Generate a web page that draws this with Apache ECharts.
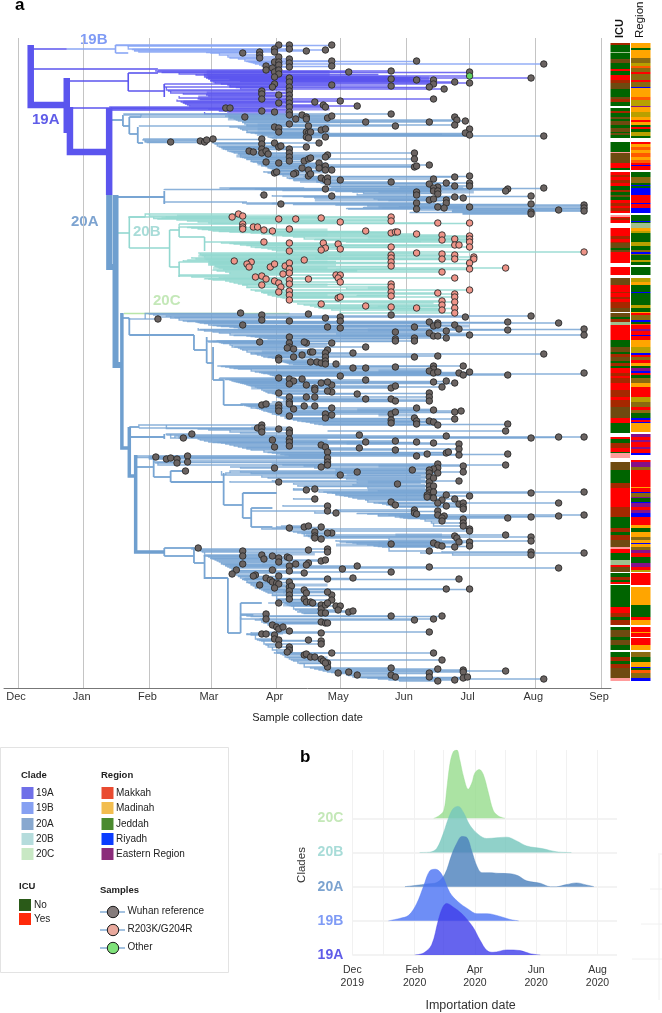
<!DOCTYPE html>
<html><head><meta charset="utf-8"><style>html,body{margin:0;background:#fff}#c{width:662px;height:1013px}</style>
<script src="https://cdn.jsdelivr.net/npm/echarts@6/dist/echarts.min.js"></script></head><body><div id="c"></div>
<script>
// x values are days since 1 Dec 2019, y values are tip rows of the tree
const monthDays=[0,31,62,91,122,152,183,213,244,275];
const monthNames=['Dec','Jan','Feb','Mar','Apr','May','Jun','Jul','Aug','Sep'];
const samplesOther=[[213,46]];
const samplesR203K=[[101,187],[104,184],[106,186],[123,189],[131,189],[143,188],[106,194],[106,197],[106,199],[111,197],[113,197],[116,200],[120,201],[128,199],[116,212],[128,213],[128,221],[144,213],[145,218],[143,220],[102,231],[110,232],[108,234],[109,237],[119,237],[121,234],[126,236],[128,233],[128,239],[128,243],[125,244],[135,230],[112,247],[115,246],[117,249],[121,251],[123,253],[124,257],[115,255],[137,249],[128,250],[128,254],[123,262],[128,261],[128,265],[128,270],[143,274],
[176,187],[176,191],[152,192],[198,193],[213,193],[164,201],[176,203],[178,202],[179,202],[188,204],[200,205],[200,210],[206,209],[213,206],[213,209],[213,212],[206,215],[208,215],[213,217],[151,214],[152,219],[176,217],[188,223],[200,224],[200,229],[206,225],[206,229],[176,225],[176,228],[176,232],[176,236],[215,227],[215,229],[213,233],[213,239],[200,242],[230,238],[267,222],[150,245],[152,245],[151,248],[152,252],[206,248],[176,254],[176,257],[176,262],[176,266],[213,260],[198,263],[206,264],[206,267],[151,268],[152,267],[206,272],[164,276],[176,277],[188,278],[200,271],[200,275],[200,280],[206,278],[206,283]];
const samplesWuhan=[[123,15],[128,15],[128,19],[106,23],[114,22],[114,25],[114,28],[121,19],[121,22],[136,21],[145,20],[123,27],[121,32],[123,32],[128,29],[128,33],[128,37],[117,36],[117,40],[120,38],[121,42],[123,35],[123,40],[123,44],[121,47],[128,48],[128,52],[128,57],[128,61],[121,54],[120,57],[115,61],[115,64],[115,69],[123,65],[123,73],[140,72],[144,75],[145,77],[128,65],[128,69],[128,73],[128,77],[128,82],[128,85],[98,78],[100,78],[115,81],[121,82],
[107,87],[131,89],[134,85],[136,87],[136,89],[146,88],[128,94],[137,96],[121,97],[123,98],[123,102],[136,102],[137,103],[138,102],[136,107],[137,108],[143,100],[145,99],[145,107],[142,113],[72,112],[86,111],[88,112],[89,110],[92,109],[115,109],[115,114],[115,119],[121,113],[123,117],[124,116],[128,119],[128,123],[128,127],[128,131],[136,117],[109,121],[111,122],[115,123],[117,121],[118,124],[117,132],[123,133],[135,131],[137,129],[138,128],[146,125],[145,127],[142,133],[142,138],[145,136],[145,140],[134,138],[137,140],[137,146],[138,144],[131,143],[130,144],[121,143],[122,142],[143,148],[145,150],[146,148],[146,152],[145,159],[116,165],[124,174],
[105,283],[66,289],[115,285],[115,290],[106,295],[128,291],[137,284],[145,288],[146,297],[128,307],
[148,15],[148,31],[188,31],[148,36],[248,34],[156,42],[176,41],[213,42],[213,53],[176,49],[188,50],[196,50],[196,54],[206,52],[176,56],[194,57],[201,59],[148,55],[242,48],[152,71],[196,69],[160,76],[148,86],[176,84],[206,87],[207,90],[211,91],[194,92],[164,92],[206,95],[178,96],[213,99],[211,103],[213,105],[248,106],
[187,123],[187,129],[187,137],[188,136],[194,135],[148,140],[152,150],[176,152],[196,149],[206,147],[213,146],[213,153],[213,156],[194,154],[202,153],[206,156],[198,157],[196,158],[196,161],[198,161],[198,164],[188,162],[188,165],[231,159],[230,161],[248,158],[148,166],[206,167],[210,168],[194,170],[196,169],[202,170],[202,173],[242,166],[242,174],[213,177],[188,173],[188,179],[198,177],[201,178],[255,180],[267,175],[267,178],[267,181],[242,182],[242,184],
[176,285],[211,287],[242,286],[152,287],[152,291],[194,292],[196,296],[198,293],[198,295],[206,295],[208,299],[231,292],[255,293],[187,297],[152,298],[178,302],[194,303],[202,301],[231,300],[267,299],[267,305],[213,305],[196,306],[198,306],[202,308],[178,309],[187,308],
[164,317],[178,311],[187,311],[148,313],[158,323],[187,327],[198,326],[248,324],[150,334],[158,338],[164,338],[178,337],[196,336],[196,339],[194,341],[196,343],[198,342],[210,336],[213,342],[208,343],[210,345],[231,345],[267,343],[152,346],[148,355],[148,362],[164,350],[196,352],[202,351],[206,353],[200,357],[176,358],[178,356],[160,364],[164,369],[176,369],[178,371],[194,363],[194,367],[194,371],
[148,378],[148,385],[176,384],[178,382],[188,378],[196,380],[206,382],[209,381],[176,390],[176,393],[187,388],[188,391],[188,394],[194,391],[196,392],[198,395],[206,389],[231,394],[230,401],
[161,405],[202,406],[242,408],[255,407],[267,407],[164,412],[178,411],[188,412],[196,413],[208,414],[208,419],[161,418],[178,420],[193,424],[202,423],[203,422],[188,426],[208,425],[231,424],
[198,434],[198,438],[196,439],[194,440],[210,436],[230,435],[186,440],[160,442],[152,445],[194,443],[194,447],[194,452],[194,456],[194,460],[194,463],[193,465],[193,467],[196,448],[196,456],[196,462],[198,443],[210,442],[208,451],[179,454],[202,465],[213,466],[242,463],[267,462],[206,469],[196,468],[200,470],[198,473],[208,474],[210,473],[210,477],[210,479],[202,476],[176,472],[178,475],[255,473],
[150,483],[187,480],[187,483],[188,484],[198,481],[198,485],[201,486],[200,488],[200,491],[231,488],[242,487],[255,486],[267,485],[210,489],[210,493],[210,496],[213,499],[213,501],[148,503],[206,506],[207,508],[208,512],[230,505],[242,507],[242,511],[176,514],[196,513],[198,515],[200,516],[206,517],[213,512],[213,516],[194,521],[242,522],[242,525],[267,523],
[194,537],[153,539],[160,536],[176,542],[255,538],[158,548],[208,549],[202,559],[213,559],[148,565],[148,570],[150,576],[152,576],[151,580],[156,582],[158,581],[176,586],[200,586],[187,590],[196,589],[194,602],[148,623],[196,623],[200,630],[176,638],[176,645],[198,639],[210,640],[210,642],[230,641],[194,643],[194,647],[151,643],[156,642],[160,645],[178,647],[198,651],[206,650],[210,648],[212,647],[248,649],
[114,312],[128,313],[128,317],[127,318],[130,319],[136,313],[135,312],[146,320],[145,323],[145,327],[138,322],[139,322],[134,325],[130,327],[123,328],[123,330],[138,332],[141,332],[143,333],[145,331],[145,334],
[123,348],[128,349],[130,351],[134,349],[128,354],[136,355],[143,353],[146,352],[140,358],[140,360],[146,361],[123,363],[128,367],[136,367],[140,367],[128,372],[128,374],[115,375],[117,374],[123,375],[123,378],[123,381],[130,379],[135,376],[140,376],[145,384],[145,388],[128,386],
[113,398],[115,395],[115,398],[115,402],[123,399],[128,400],[128,403],[82,404],[78,408],[120,410],[128,409],[128,412],[121,417],[128,416],[143,415],[145,417],[146,422],
[65,427],[70,429],[72,428],[75,429],[75,433],[80,426],[80,432],[79,441],[146,428],[146,432],[146,435],[143,437],[121,438],[123,452],
[136,460],[140,459],[140,469],[146,476],[146,481],[128,498],[135,497],[137,496],[143,497],[140,502],[140,506],[140,508],[143,509],[146,503],
[85,518],[106,521],[106,526],[137,520],[146,519],[146,522],[115,525],[116,529],[120,526],[123,528],[123,532],[127,527],[128,528],[128,536],[131,534],[137,533],[136,535],[143,531],[145,530],[106,534],
[103,540],[101,544],[120,540],[128,541],[135,543],[123,546],[112,545],[111,546],[117,548],[119,550],[120,552],[122,553],[123,554],[121,558],[114,555],[128,552],[128,557],[129,556],[128,561],[128,565],[128,569],[146,549],[146,562],[135,560],[136,563],[135,569],[136,572],[138,572],[139,573],[123,573],[143,575],[143,579],[143,583],[145,575],[146,573],[145,583],
[117,584],[117,589],[120,595],[122,597],[123,599],[125,597],[128,601],[143,592],[145,593],[146,593],[115,604],[117,604],[121,605],[121,609],[123,610],[123,615],[137,610],[143,603],[143,611],[143,614],[128,617],[128,620],[127,622],[135,625],[136,624],[138,627],[140,627],[143,629],[144,631],[146,633],[146,637],[145,633]];

// trunk edges: [parent day, parent row, child day, child row]
const trunk19AHeavy=[[6,15,23,75],[23,48,23,103],[24.5,77,43,122],[43,78,43,165]];
const trunk19AThin=[[6,19,23,19],[6,39,66,39],[23,51,52,51],[52,43,52,61],[52,43,66,43],[52,61,69,61],[69,54,69,67],[23,78,60,78]];
const trunk19BThin=[[23,19,46,19],[46,15,46,23],[46,23,52,23]];
const trunk20AHeavy=[[43,165,46,237],[46,165,49,335]];
const trunk20AMidHeavy=[[49,283,52,418],[52.5,397,55.5,446],[55.5,425,69,522]];
const trunk20AThin=[[43,90,49.5,90],[49.5,85,49.5,96],[49.5,96,52.5,96],[52.5,87,58,87],[52.5,87,52.5,104],[52.5,104,56.5,104],[56.5,97,56.5,113],[56.5,113,59,113],[46,167,69,167],[69,161,69,174],[49,288,52.5,288],[52.5,288,52.5,305],[52.5,305,83,305],[83,305,83,320],[83,320,89,320],[89,307,89,333],[89,333,92,333],[92,317,92,350],[92,350,97,350],[97,350,97,375],[97,375,106,375],[52.5,397,57,397],[52.5,407,69,407],[69,404,69,409],[55.5,437,64,437],[64,430,64,447],[64,447,72,447],[72,441,72,452],[72,441,79,441],[72,452,97,452],[97,443,97,475],[97,475,106,475],[106,463,106,488],[106,463,122,463],[106,488,110,488],[110,478,110,497],[110,478,120,478],[110,497,120,497],[69,518,69,526],[69,518,83,518],[69,526,83,526],[83,518,83,533],[83,533,88,533],[88,525,88,545],[88,545,99,548],[99,548,99,603],[99,603,105,603],[105,573,105,603],[105,573,115,573],[105,585,111,585]];
const trunk20BThin=[[46,203,52.5,203],[52.5,187,52.5,218],[52.5,187,60,187],[52.5,218,71.5,218],[71.5,200,71.5,237],[71.5,200,76,200],[76,197,76,207],[71.5,237,76,237],[76,232,76,247],[76,207,88,207],[88,207,88,221]];
const trunk20CThin=[[50,283.5,128,283.5]];

// tip bundles that overlap into solid bands: [start day, end day, row]
const bundles19A=[[89,147,42],[89,147,45],[120,194,48],[147,194,50],[89,128,63],[85,128,67],[78,128,72],[44,147,79]];
const bundles20A=[[99,147,86],[99,147,89],[113,147,95],[113,147,99],[113,147,103],[115,213,105],[96,128,118],[103,146,126],[113,146,134],[122,146,142],[130,146,150],[180,210,158],[170,215,162],[140,200,170],[170,210,177],[190,267,178],[205,267,180],[150,196,292],[150,213,296],[165,200,300],[150,213,304],[115,146,315],[115,146,322],[125,146,330],[170,200,341],[150,196,344],[105,146,352],[110,146,358],[125,194,370],[160,196,380],[170,188,385],[178,198,392],[110,128,398],[120,146,410],[155,178,413],[70,146,427],[75,146,431],[170,196,436],[155,194,445],[165,194,452],[165,194,460],[175,196,470],[180,200,487],[178,200,505],[150,196,515],[170,210,513],[105,140,524],[115,135,535],[115,146,555],[125,146,562],[125,146,575],[120,146,593],[117,125,603],[135,146,628]];
const bundles20B=[[75,143,186],[120,176,188],[110,146,200],[120,146,205],[165,200,207],[180,213,209],[85,146,226],[90,146,232],[92,146,238],[140,176,228],[150,200,240],[115,146,255],[125,146,265],[165,176,258],[165,200,276]];

// tree ladders: [start day, tip day, row]; each edge hangs from the row before it
const ladders19B=[[[46,123,15],[46,148,15.5],[52,128,16],[52,128,19],[54,121,19.5],[55,136,21],[55,145,20],[57,121,22],[89,114,22.5],[91,106,23],[95,114,25],[99,123,27],[100,114,28],[104,128,29],[107,148,31],[108,188,31.5],[109,121,32],[110,123,32.5],[111,128,33],[112,248,34],[114,123,35],[115,117,36],[116,148,36.5],[118,128,37]]];
const ladders19A=[
[[66,117,40],[65,176,41],[66,156,42],[68,213,42.5],[76,123,44],[84,121,45],[88,170,44.5],[88,213,46],[90,178,46.5],[88,128,47],[89,190,47.5],[89,242,48],[90,185,48.5],[90,176,49],[100,190,49.5],[91,188,50],[91,196,50.5],[91,180,51],[105,195,51.5],[92,206,52],[93,213,53],[96,196,54],[99,148,55],[100,176,56],[100,128,57],[103,194,57.5],[105,201,59]],
[[69,121,54],[69,120,57],[70,128,60],[71,115,61],[72,128,63],[78,115,64],[89,123,65],[90,128,66],[76,115,68],[85,196,69],[86,128,69.5],[75,152,71],[77,140,72],[78,128,73],[79,123,74],[80,144,75],[81,160,76]],
[[43,145,77],[44,115,78.5],[60,98,78],[90,100,79],[44,128,80],[95,121,81],[99,128,82],[88,128,84]]];
const ladders20A=[
[[50,128,85],[50,176,84],[58,107,87],[98,148,86],[100,136,87],[100,146,88],[102,131,89],[103,207,90],[104,211,91],[106,194,92],[106,164,92.5],[107,128,94],[108,206,95],[108,178,96]],
[[57,137,96],[100,121,97],[104,123,98],[105,145,99],[106,143,100],[108,138,102],[108,123,102.5],[110,137,103],[112,211,103.5],[125,200,104.5],[113,213,105],[122,210,105.5],[121,248,106],[118,136,107],[119,145,107.5],[120,137,108]],
[[59,92,109],[59,89,110],[60,86,111],[60,72,112],[61,88,112.5],[92,115,109.5],[92,142,113],[93,121,113.5],[93,115,114],[94,124,116],[95,136,117],[96,123,117.5],[97,115,119],[98,128,119.5],[99,109,121],[100,117,121.5],[101,111,122],[102,187,123],[104,128,123.5],[104,118,124],[105,146,125],[105,145,127],[106,128,127.5],[107,138,128],[108,187,129],[108,137,129.5],[110,128,131],[110,135,131.5],[111,117,132],[113,123,133],[114,142,133.5],[115,194,135],[115,145,136],[117,188,136.5],[118,187,137],[118,142,138],[119,134,138.5],[120,137,140],[121,148,140.5],[122,145,141],[116,122,142],[118,121,143],[120,131,143.5],[121,130,144],[122,138,144.5],[125,137,146],[135,213,146.5],[137,206,147],[127,143,148],[128,146,148.5],[139,196,149],[130,145,150],[141,152,150.5],[141,176,152],[133,146,152],[143,213,153],[144,202,153.5],[145,194,154],[147,213,156],[147,206,156.5],[148,198,157]],
[[95,135,158],[100,248,158.5],[112,231,159],[69,145,159.5],[115,230,160],[125,196,160.5],[150,196,161],[150,198,161.5],[158,188,162],[163,198,163.5],[160,188,165],[114,116,165],[120,148,166],[125,242,166.5],[135,206,167],[140,210,168],[168,196,169],[170,194,170],[175,202,170.5],[69,108,172],[106,188,173],[120,202,173.5],[108,124,174],[130,242,174.5],[150,267,175],[165,267,176],[180,213,177],[163,198,177.5],[172,201,178],[155,267,178.5],[156,188,179],[190,255,180],[205,267,181],[205,242,182],[185,240,182.5],[210,242,183.5],[210,242,184]],
[[52,66,289],[60,105,283.5],[62,137,284],[64,115,285],[66,211,287],[70,242,286],[72,145,288],[74,152,287.5],[76,115,290],[78,128,291],[80,152,291.5],[84,194,292],[85,231,292.5],[86,255,293],[88,198,293.5],[90,106,295],[92,206,295.5],[94,198,296],[96,196,296.5],[100,187,297],[102,146,297.5],[104,152,298],[85,231,300],[86,267,299.5],[106,208,299],[88,202,301],[92,178,302],[95,194,303],[100,267,305],[102,213,305.5],[108,196,306],[110,198,306.5],[112,128,307],[114,202,308],[116,187,308.5],[118,178,309]],
[[89,136,311],[90,114,312],[92,178,311.5],[94,187,311],[95,135,312.5],[96,128,313],[97,148,313.5],[100,136,315],[101,128,317],[102,164,317],[104,127,318],[105,130,319],[106,146,320],[108,138,322],[110,158,323],[110,248,324],[112,145,323.5],[113,134,325],[115,198,326],[116,130,327],[118,187,327],[118,145,327.5],[120,123,328],[122,123,330],[124,145,331],[125,138,332],[126,141,332.5],[127,143,333],[128,150,334],[130,145,334.5]],
[[94,210,336],[96,196,336.5],[98,178,337],[100,158,338],[102,164,338.5],[104,196,339],[110,194,341],[112,198,342],[114,213,342.5],[115,196,343],[116,208,343.5],[118,267,344],[119,231,345],[120,210,345.5],[121,152,346]],
[[95,123,348],[95,128,349],[98,134,349.5],[100,164,350],[101,130,351],[102,202,351.5],[103,146,352],[104,196,352.5],[105,143,353],[106,206,353.5],[107,128,354],[108,136,355],[109,148,355.5],[110,178,356],[112,200,357],[113,140,358],[114,176,358],[115,140,360],[116,146,361],[117,148,362],[118,123,363],[120,194,363.5],[121,160,364],[122,194,367],[123,128,367.5],[124,136,368],[125,140,368.5],[126,164,369],[127,176,369.5],[128,194,371],[129,178,371.5],[120,128,372]],
[[105,128,374],[105,117,374.5],[106,115,375],[107,123,375.5],[108,135,376],[109,140,376.5],[110,188,378],[112,148,378],[113,123,378.5],[114,130,379],[115,196,380],[116,209,381],[117,123,381],[118,178,382],[119,206,382.5],[120,176,384],[121,145,384],[122,148,385],[124,128,386],[126,145,388],[127,206,389],[128,187,388.5],[130,176,390],[132,188,391],[134,194,391.5],[136,196,392],[138,176,393],[140,188,394],[142,231,394.5],[144,198,395]],
[[146,230,401]],
[[57,113,398],[57,115,395],[70,115,398.5],[85,123,399],[90,128,400],[100,115,402],[105,128,403]],
[[70,161,405],[70,82,404],[72,78,408],[74,202,406],[76,242,408],[80,267,407],[82,255,407.5],[85,128,409],[86,120,410],[88,178,411],[90,164,412],[92,128,412.5],[94,188,412.5],[96,196,413],[98,208,414],[100,143,415],[102,128,416],[104,145,417],[106,161,418],[108,121,417.5],[108,208,419],[110,178,420],[116,146,422],[118,203,422.5],[120,202,423],[122,193,424],[124,231,424.5],[126,208,425],[128,188,426]],
[[56,146,426],[56,146,427.5],[62,80,426.5],[62,72,428],[62,75,429],[63,146,428.5],[64,80,432],[65,75,433],[66,146,432.5],[66,146,435]],
[[100,143,437],[105,121,438],[120,198,434],[125,230,435],[135,210,436],[140,198,438],[145,196,439],[150,194,440],[152,186,440.5]],
[[72,79,441],[96,152,445],[98,194,443],[100,186,441],[105,160,442],[110,198,443.5],[150,210,442],[150,190,445.5],[115,194,447],[118,196,448],[155,190,449],[160,192,450],[120,208,451],[100,123,452],[125,194,452],[160,190,453],[130,179,454],[158,192,455],[132,194,456],[135,196,456.5],[165,192,458],[130,140,459],[130,136,460],[140,194,460],[170,192,461],[142,196,462],[144,267,462],[146,242,463],[148,194,463],[150,192,464],[150,202,465],[152,193,465.5],[154,213,466],[156,193,467],[158,196,468],[130,140,469],[160,206,469],[164,200,470],[165,176,472],[168,198,473],[170,255,473],[172,208,474],[174,178,475],[125,146,476],[176,210,476],[176,202,476.5],[180,210,477]],
[[110,146,481],[150,187,480],[152,198,481.5],[140,150,483],[160,187,483.5],[165,188,484],[170,198,485],[170,201,486],[175,267,485],[178,242,487],[180,255,486.5],[182,231,488],[184,200,488.5],[190,210,489],[192,200,491],[195,210,493],[196,210,496]],
[[124,137,496],[122,135,497],[126,143,497.5],[120,128,498],[115,213,499],[128,213,501],[130,140,502],[132,146,503],[134,148,503.5],[135,140,506],[136,230,505],[137,206,506.5],[138,140,508],[139,143,509],[142,242,507],[145,207,508],[175,200,510],[150,242,511],[152,208,512],[155,213,512.5],[158,196,513],[160,176,514],[165,198,515],[168,200,516],[170,213,516.5],[172,206,517],[175,194,521],[200,242,522],[190,267,523],[205,242,525]],
[[82,85,518],[82,146,519],[84,137,520],[86,106,521],[87,146,522],[88,115,525],[88,106,526],[89,120,526],[90,127,527],[91,123,528],[91,128,528.5],[92,116,529],[93,145,530],[94,143,531],[95,123,532],[96,137,533],[96,106,534],[97,131,534.5],[98,136,535],[98,128,536],[100,160,536],[99,194,537],[100,255,538],[101,103,540],[101,120,540.5],[102,128,541],[102,176,542],[103,135,543],[100,101,544],[103,112,545],[104,111,546],[104,123,546.5],[105,117,548],[107,158,548.5],[106,146,549],[106,208,549.5],[107,119,550],[108,120,552],[108,128,552.5],[109,122,553],[110,123,554],[110,114,555],[111,129,556],[112,128,557],[112,121,558],[114,202,559],[116,213,559.5],[115,135,560],[116,128,561],[117,146,562],[118,136,563],[120,128,565],[120,148,565.5],[122,128,569],[122,135,569.5],[124,148,570],[125,136,572],[125,138,572.5],[126,139,573],[118,123,573],[126,146,573.5],[127,143,575],[128,145,575.5],[129,150,576],[130,143,579],[131,151,580],[133,158,581],[132,156,582],[134,143,583],[135,145,583.5]],
[[105,117,584],[108,176,586],[110,200,586.5],[105,117,589],[114,196,589],[112,187,590],[115,143,592],[116,145,593],[118,146,593.5],[118,120,595],[120,122,597],[120,125,597.5],[121,123,599],[122,128,601],[124,194,602],[110,143,603],[108,115,604],[108,117,604.5],[110,121,605],[112,121,609],[113,123,610],[114,137,610.5],[115,143,611],[116,143,614],[117,123,615],[118,128,617],[120,128,620],[122,127,622],[121,148,623],[122,196,623],[124,136,624],[125,135,625],[126,138,627],[127,140,627.5],[128,143,629],[129,200,630],[130,144,631],[132,146,633],[133,145,633.5],[135,146,637],[138,176,638],[140,198,639],[142,210,640],[144,230,641],[146,210,642],[148,156,642.5],[150,151,643],[152,194,643.5],[155,176,645],[156,160,645.5],[158,178,647],[160,194,647.5],[162,212,647.5],[165,210,648],[170,248,649],[175,206,650],[180,198,651]]];
const ladders20B=[
[[52,101,187],[60,104,184],[62,106,186],[70,176,187],[64,123,188.5],[66,131,189],[68,143,188],[75,176,190],[80,176,191],[85,152,192],[90,198,193],[92,213,193.5]],
[[76,106,194],[76,106,197],[80,111,197.5],[82,113,198],[85,106,199],[87,128,199.5],[90,116,200],[92,120,201],[95,164,201.5],[100,178,202],[105,179,202.5],[110,176,203],[115,188,204],[120,200,205],[125,213,206],[130,213,207],[135,206,209],[140,213,209.5],[145,200,210],[150,213,211],[152,190,211.5],[155,213,212]],
[[88,116,212],[96,144,213],[100,128,213.5],[102,151,214],[105,206,215],[108,208,215.5],[110,213,217],[112,176,217.5],[115,145,218],[118,152,219],[120,143,220],[122,128,221],[130,267,222]],
[[85,188,223],[86,200,224],[86,176,225],[87,206,225.5],[88,215,227],[82,176,228],[84,200,229],[88,206,229],[89,215,229.5],[80,135,230],[78,102,231],[90,150,231.5],[76,110,232],[92,176,232.5],[90,128,233],[91,213,233.5],[90,121,234],[91,108,234.5],[90,150,235],[93,126,236],[93,176,236.5],[94,119,237],[95,109,237.5],[95,230,238],[97,128,239],[97,213,239.5],[92,160,240],[94,160,241],[98,200,242],[100,128,243],[100,125,244]],
[[76,150,245],[76,115,246],[82,112,247],[95,206,248],[97,151,248.5],[88,137,248.7],[90,117,249],[92,128,250],[98,121,251],[100,152,252],[102,123,253],[104,128,254],[106,176,254.5],[106,115,255],[108,176,257],[108,124,257.5],[155,176,259],[110,213,260],[112,128,261],[115,123,262],[115,176,262.5],[116,198,263],[118,206,264],[118,128,265],[160,176,265.5],[120,176,266],[122,206,267],[124,152,267.5],[125,151,268],[127,128,270],[128,200,271],[130,206,272],[165,196,273],[132,143,274],[135,200,275],[138,164,276],[170,198,276.5],[140,176,277],[142,188,278],[144,206,278.5],[175,200,279],[148,200,280],[176,200,281],[152,206,283]]];

// ICU and Region strips: "<first row><code>" runs, one run per colour band
const icuRuns='13d 15G 22l 23G 29b 33G 39R 41G 45R 50d 53b 59G 67b 69d 72G 76w 78G 81d 83G 87b 89G 91b 95G 98b 102G 103b 105G 108w 112G 122p 123b 133R 138G 140w 142R 145d 147R 150d 153R 156G 160d 162G 165b 167G 170R 173d 176R 178d 181R 183w 185p 187R 188d 190R 193w 198R 206d 209R 212d 213b 218G 220b 222R 233w 237R 245w 248b 255R 262d 263R 267d 269R 272d 278b 282w 283b 287G 289d 292l 295R 310G 317b 322G 324d 327b 331G 333d 336G 338R 343d 346R 348d 353R 360d 367R 370d 377b 388R 393G 403w 407R 409G 413d 418R 422G 423p 428w 432b 440G 453d 458R 477d 487G 498d 502G 505d 510b 517p 519R 523G 530l 535R 537b 542w 543G 547d 550G 552R 554w 555G 577R 583d 587G 590d 595w 597G 600b 607G 610b 615G 620w 622G 627d 631G 634d 638b 648p 651e'.split(' ');
const regionRuns='13O 18G 20O 28m 33y 36r 38m 42R 44m 50R 52m 57B 58O 67r 70y 76P 77O 82y 87O 90R 92O 95G 97R 99G 102y 106G 108w 112R 114O 117r 120O 123r 127O 130r 133R 135B 136R 140w 142G 147m 153G 155B 156G 158B 165R 173B 174R 178B 183w 185G 191B 192G 193l 198O 201y 203G 212y 216G 220m 222B 224m 225G 230y 232G 235w 237G 245w 248y 252O 255G 262B 263G 275y 278G 282O 283R 285m 290B 292G 294r 295R 299P 301R 305B 306R 310O 317y 323B 325R 327m 330R 333O 336G 338P 341B 343R 345G 348m 353O 357R 367y 372m 377R 380m 383G 388B 390R 392B 393O 402w 404P 407R 410P 412R 417P 419R 423B 425w 430R 432P 437m 440R 457O 458R 462B 463m 467P 468G 472B 473P 477R 480P 483B 487R 495O 498G 502O 507m 510O 513B 514O 517m 520P 523R 527G 533P 537R 540y 542w 543R 555w 557O 575G 587R 590O 595w 597R 602O 603R 607w 608R 615O 620w 622m 627G 632O 637B 638G 640r 643m 648B 651e'.split(' ');
const stripNames=['ICU','Region'];

// Importation-date ridges: [day since 1 Dec 2019, density in ridge-spacing units]
const ridgeOrder=['19A','19B','20A','20B','20C'];
const ridge20C=[[81,0],[86,.07],[91,.23],[94,.85],[97,1.57],[100.5,1.95],[104,2],[107,1.71],[110.5,1.24],[115.4,.85],[119,1.04],[122,1.33],[126.4,1.43],[130.4,1.28],[135.3,.76],[140.3,.23],[145.3,.07],[152,0]];
const ridge20B=[[67,0],[77,.01],[84,.12],[90.6,.56],[95.5,.99],[100.5,1.29],[105.5,1.35],[110.5,1.18],[117,.8],[125.4,.53],[133.7,.41],[143.6,.43],[153.6,.45],[163.5,.34],[173.5,.19],[190,.11],[203,.02],[218,0]];
const ridge20A=[[52.4,0],[64,.04],[74,.08],[84,.12],[92,.36],[99,.94],[104,1.27],[109,1.47],[114,1.44],[119,1.03],[124,.6],[129,.41],[137,.41],[145,.39],[157,.38],[165,.32],[173.5,.17],[187,.1],[197,0],[203,0],[213,.06],[223,.11],[233,.05],[240.5,0]];
const ridge19B=[[36,0],[47,.07],[56,.16],[64,.5],[71,1.02],[77,1.46],[83,1.51],[89,1.36],[97,.83],[105.5,.55],[115,.35],[124,.21],[134,.21],[147,.13],[157,.04],[165.5,0]];
const ridge19A=[[62,0],[71,.06],[79,.3],[85.6,1.02],[90,1.4],[94,1.51],[100.5,1.4],[109,1.21],[120,.82],[127,.44],[134,.13],[140,.08],[154,.15],[167,.13],[177,.04],[187,0]];
const ridgeMonths=[0,31,62,91,122,152,183,213,244];
const ridgeBaselines=[0,1,2,3,4];
const ridgeLabels={0:'Dec\n2019',62:'Feb\n2020',122:'Apr\n2020',183:'Jun\n2020',244:'Aug\n2020'};

// legend contents
const legendClade=[['19A','#6f6fe8'],['19B','#86a0f2'],['20A','#88a8cf'],['20B','#b5dcdc'],['20C','#c8e8c4']];
const legendRegion=[['Makkah','#e94b30'],['Madinah','#f2bd4f'],['Jeddah','#4a8a2e'],['Riyadh','#0b3cff'],['Eastern Region','#8b2c7a']];
const legendICU=[['No','#2a5a18'],['Yes','#ff2a0a']];
const legendSamples=[['Wuhan reference','#857c7c'],['R203K/G204R','#e9a99d'],['Other','#7fe27a']];

const FONT='"Liberation Sans",Arial,sans-serif';
const C={a:'#5b55ee',b:'#8aa6f5',A:'#78a5d3',B:'#93d8d0',c:'#b9e6a9'};
const stripColors={G:'#006400',R:'#ff0000',d:'#a52800',b:'#6e4a10',l:'#9fc08f',p:'#ff9c9c',w:'#ffffff',O:'#ffa500',m:'#8a6a10',y:'#b8a000',r:'#ff5a00',B:'#0000ff',P:'#85108a'};

function edgeSeries(name,edges,color,width,opacity){
  return {type:'custom',name,xAxisIndex:0,yAxisIndex:0,silent:true,z:2,data:edges,encode:{x:[0,2],y:[1,3]},
    renderItem:(p,api)=>{const a=api.value(0),b=api.value(1),c=api.value(2),d=api.value(3);
      return {type:'polyline',shape:{points:[api.coord([a,b]),api.coord([a,d]),api.coord([c,d])]},
        style:{stroke:color,lineWidth:width,fill:null,opacity:opacity}};}};
}
function ladderEdges(ls){return ls.flatMap(l=>l.map((e,i)=>[e[0],i?l[i-1][2]:e[2],e[1],e[2]]));}
function bundleEdges(b){return b.map(e=>[e[0],e[2],e[1],e[2]]);}
function runsToBands(runs,col){const out=[];for(let i=0;i<runs.length-1;i++){const r=parseFloat(runs[i]),n=parseFloat(runs[i+1]),k=runs[i].slice(-1);if(k!=='w')out.push([col,r,n,k]);}return out;}
function stripSeries(runs,col){
  return {type:'custom',name:stripNames[col],xAxisIndex:1,yAxisIndex:1,silent:true,data:runsToBands(runs,col),encode:{x:0,y:[1,2]},
    renderItem:(p,api)=>{const c=api.coord([api.value(0),api.value(1)]),e=api.coord([api.value(0),api.value(2)]),w=api.size([1,0])[0]-1;
      return {type:'rect',shape:{x:c[0]-w/2,y:c[1],width:w,height:e[1]-c[1]},style:{fill:stripColors[stripData[col][p.dataIndex][3]]}};}};
}
const stripData=[runsToBands(icuRuns,0),runsToBands(regionRuns,1)];
const ridgeColor={'19A':'#3f3dea','19B':'#4a72f4','20A':'#4a80bc','20B':'#74c6bc','20C':'#96dc8c'};
const ridgeLabelColor={'19A':'#5f5ce8','19B':'#7f9bf5','20A':'#7ca3d0','20B':'#a8dcd8','20C':'#c4e8b8'};
const ridgeData={'19A':ridge19A,'19B':ridge19B,'20A':ridge20A,'20B':ridge20B,'20C':ridge20C};
function ridgeSeries(name){const base=ridgeOrder.indexOf(name);
  return {type:'line',name,xAxisIndex:2,yAxisIndex:2,showSymbol:false,smooth:.35,silent:true,z:10-base,
    data:ridgeData[name].map(d=>[d[0],base+d[1]]),lineStyle:{width:.5,color:ridgeColor[name],opacity:.8},
    itemStyle:{color:ridgeColor[name]},areaStyle:{origin:base,color:ridgeColor[name],opacity:.8}};}
function dots(name,data,color){return {type:'scatter',name,xAxisIndex:0,yAxisIndex:0,data,symbolSize:6.5,z:5,silent:true,
  itemStyle:{color,borderColor:'#2b2b2b',borderWidth:.9,opacity:1}};}

const g=[];
const t=(text,x,y,o={})=>g.push({type:'text',x,y,silent:true,rotation:o.rot||0,style:{text,fill:o.c||'#222',font:`${o.w||'normal'} ${o.s||10.5}px ${FONT}`,textAlign:o.a||'left',textVerticalAlign:'middle'}});
g.push({type:'rect',silent:true,shape:{x:.5,y:747.5,width:228,height:225},style:{fill:'#fff',stroke:'#e3e3e3',lineWidth:1},z:-1});
t('a',15,5,{w:'bold',s:17,c:'#000'});t('b',300,757,{w:'bold',s:17,c:'#000'});
[['19B',80,40,'#7f9bf5'],['19A',32,120,'#5f5ce8'],['20A',71,222,'#7ca3d0'],['20B',133,232,'#a8dcd8'],['20C',153,301,'#c4e8b8']].forEach(a=>t(a[0],a[1],a[2],{w:'bold',s:15,c:a[3]}));
t('ICU',620,38,{w:'bold',s:11,c:'#111',rot:Math.PI/2});t('Region',640,38,{s:11.5,c:'#111',rot:Math.PI/2});
t('Clades',302,865,{s:11.5,a:'center',c:'#333',rot:Math.PI/2});
const sw=(x,y,c)=>g.push({type:'rect',silent:true,shape:{x,y:y-6,width:12,height:12},style:{fill:c}});
t('Clade',21,775,{w:'bold',s:9.5});t('Region',101,775,{w:'bold',s:9.5});
t('ICU',19,886,{w:'bold',s:9.5});t('Samples',100,890,{w:'bold',s:9.5});
[793,808,824,839,854].forEach((y,i)=>{sw(21.5,y,legendClade[i][1]);t(legendClade[i][0],36,y,{s:10});sw(101.5,y,legendRegion[i][1]);t(legendRegion[i][0],116,y,{s:10});});
[905,919].forEach((y,i)=>{sw(19,y,legendICU[i][1]);t(legendICU[i][0],34,y,{s:10});});
[912,930,948].forEach((y,i)=>{g.push({type:'line',silent:true,shape:{x1:100,y1:y,x2:125,y2:y},style:{stroke:'#86aed6',lineWidth:1.5}});
 g.push({type:'circle',silent:true,shape:{cx:113,cy:y,r:5.7},style:{fill:legendSamples[i][1],stroke:'#1a1a1a',lineWidth:1}});t(legendSamples[i][0],127.5,y-1,{s:10});});
[[632,959,662,959],[641,924,662,924],[650,889,662,889],[658,854,662,854],[659,855,659,1000]].forEach(l=>g.push({type:'line',silent:true,shape:{x1:l[0],y1:l[1],x2:l[2],y2:l[3]},style:{stroke:'#f0f0f0',lineWidth:1}}));

const option={animation:false,backgroundColor:'#fff',textStyle:{fontFamily:FONT},
 grid:[{left:4,top:38,width:607,height:650},{left:610,top:38,width:41,height:650},{left:352.3,top:750,width:264.7,height:209}],
 xAxis:[
  {type:'value',gridIndex:0,min:-6.6,max:279.7,name:'Sample collection date',nameLocation:'middle',nameGap:24,nameTextStyle:{fontSize:11,color:'#222',fontFamily:FONT},
   axisLine:{lineStyle:{color:'#777',width:1}},axisTick:{show:false,customValues:monthDays},
   axisLabel:{customValues:monthDays,formatter:v=>monthNames[monthDays.indexOf(v)],fontSize:11,color:'#333',margin:3,padding:[0,4,0,0],fontFamily:FONT,showMinLabel:true,showMaxLabel:true},
   splitLine:{show:true,customValues:monthDays,lineStyle:{color:'#c4c4c4',width:1}}},
  {type:'category',gridIndex:1,data:stripNames,show:false},
  {type:'value',gridIndex:2,min:0,max:263.4,name:'Importation date',nameLocation:'middle',nameGap:44,nameTextStyle:{fontSize:12.5,color:'#333',padding:[0,28,0,0],fontFamily:FONT},
   axisLine:{show:false},axisTick:{show:false,customValues:ridgeMonths},
   axisLabel:{customValues:Object.keys(ridgeLabels).map(Number),formatter:v=>ridgeLabels[v],fontSize:10.5,color:'#333',lineHeight:13,margin:9,fontFamily:FONT},
   splitLine:{show:true,customValues:ridgeMonths,lineStyle:{color:'#f1f1f1',width:1}}}],
 yAxis:[
  {type:'value',gridIndex:0,min:8,max:658,inverse:true,show:false,splitLine:{show:false}},
  {type:'value',gridIndex:1,min:8,max:658,inverse:true,show:false,splitLine:{show:false}},
  {type:'value',gridIndex:2,min:0,max:6,axisLine:{show:false},axisTick:{show:false,customValues:ridgeBaselines},
   axisLabel:{customValues:ridgeBaselines,formatter:v=>ridgeOrder[v],color:v=>ridgeLabelColor[ridgeOrder[v]],fontWeight:'bold',fontSize:14,margin:9,verticalAlign:'middle',padding:[0,0,18,0],fontFamily:FONT},
   splitLine:{show:true,customValues:ridgeBaselines,lineStyle:{color:'#efefef',width:1.5}}}],
 series:[
  edgeSeries('20C',trunk20CThin,C.c,1.6,1),
  edgeSeries('19A bundles',bundleEdges(bundles19A),C.a,3,.6),
  edgeSeries('20A bundles',bundleEdges(bundles20A),C.A,3.2,.65),
  edgeSeries('20B bundles',bundleEdges(bundles20B),C.B,3,.65),
  edgeSeries('19B tips',ladderEdges(ladders19B),C.b,1.3,.9),
  edgeSeries('19A tips',ladderEdges(ladders19A),C.a,1.3,.85),
  edgeSeries('20A tips',ladderEdges(ladders20A),C.A,1.4,.85),
  edgeSeries('20B tips',ladderEdges(ladders20B),C.B,1.4,.9),
  edgeSeries('19B trunk',trunk19BThin,C.b,1.6,1),
  edgeSeries('19A trunk',trunk19AThin,C.a,1.6,1),
  edgeSeries('20A trunk',trunk20AThin,C.A,1.8,1),
  edgeSeries('20B trunk',trunk20BThin,C.B,1.6,1),
  edgeSeries('20A mid',trunk20AMidHeavy,'#6f9fcf',3.5,1),
  edgeSeries('20A heavy',trunk20AHeavy,'#6f9fcf',6,1),
  edgeSeries('19A heavy',trunk19AHeavy,C.a,6.5,1),
  dots('Wuhan reference',samplesWuhan,'#6a6361'),
  dots('R203K/G204R',samplesR203K,'#ee9488'),
  dots('Other',samplesOther,'#5fd35f'),
  stripSeries(icuRuns,0),stripSeries(regionRuns,1),
  ...['20C','20B','20A','19B','19A'].map(ridgeSeries)],
 graphic:g};
echarts.init(document.getElementById('c'),null,{renderer:'canvas'}).setOption(option);
</script></body></html>
